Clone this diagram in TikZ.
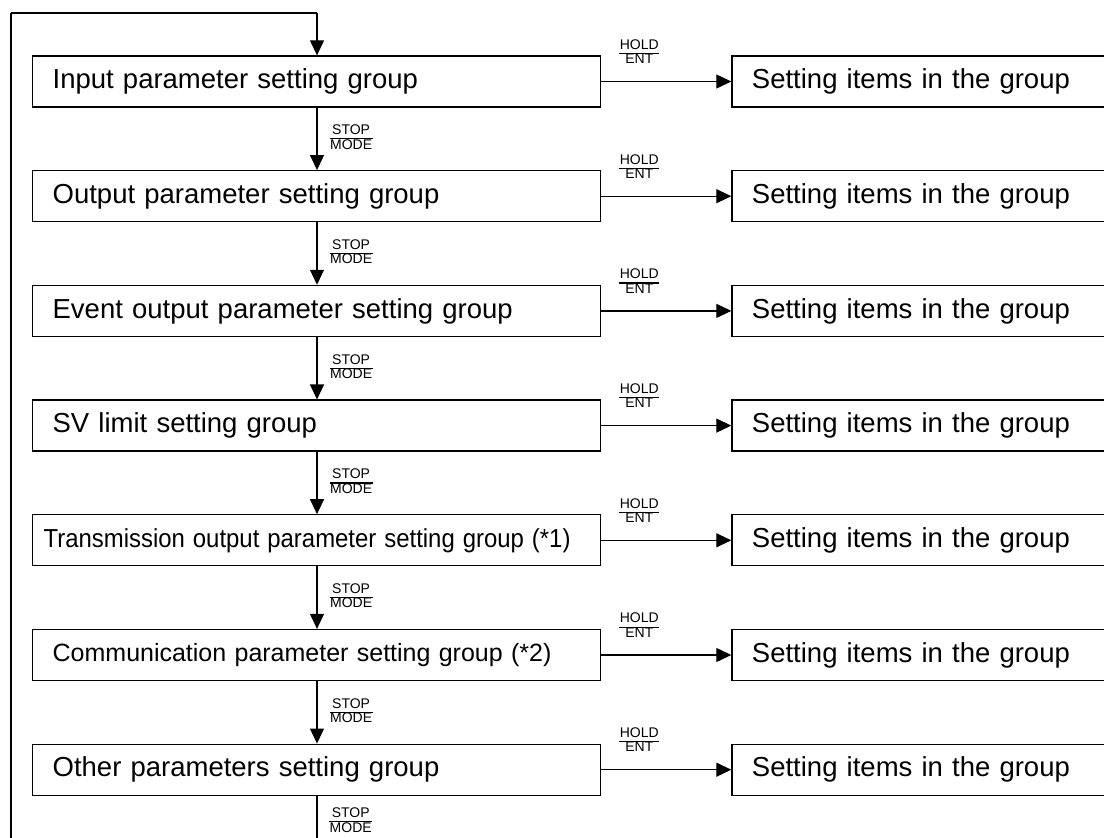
\documentclass[tikz,border=0pt]{standalone}
\usepackage{fontspec}
\setmainfont{Liberation Sans}
\usetikzlibrary{arrows.meta,calc}
\newcommand{\keyfrac}[2]{{\setlength{\tabcolsep}{0.5pt}\renewcommand{\arraystretch}{0.8}\setlength{\arrayrulewidth}{1.1pt}\begin{tabular}{c}#1\\\hline #2\end{tabular}}}
\begin{document}
\begin{tikzpicture}[x=1pt,y=-1pt,
  lbox/.style={draw, line width=1.3pt, anchor=west, minimum width=568pt, minimum height=51pt,
    text width=528pt, inner xsep=20pt, inner ysep=0pt, align=left, font=\fontsize{27.5}{30}\selectfont},
  rbox/.style={draw, line width=1.3pt, anchor=west, minimum width=420pt, minimum height=51pt,
    text width=380pt, inner xsep=20pt, inner ysep=0pt, align=left, font=\fontsize{27.5}{30}\selectfont},
  arr/.style={line width=1.2pt, -{Triangle[width=14pt,length=15pt]}},
  keylab/.style={font=\fontsize{14}{15}\selectfont, inner sep=0pt},
  loopline/.style={line width=1.2pt},
  ]
\useasboundingbox (0,0) rectangle (1104,838);
\clip (0,0) rectangle (1104,838);
\coordinate (vx) at (317,0);
\coordinate (tl) at (11,13);
\coordinate (bot) at (11,900);

\node[lbox] (L1) at (32,81.5) {Input parameter setting group};
\node[lbox] (L2) at (32,196.2) {Output parameter setting group};
\node[lbox] (L3) at (32,310.9) {Event output parameter setting group};
\node[lbox] (L4) at (32,425.6) {SV limit setting group};
\node[lbox, font=\fontsize{26}{28}\selectfont] (L5) at (32,540.3) {\hspace*{-9pt}\scalebox{0.92}[1]{Transmission output parameter setting group (*1)}};
\node[lbox, font=\fontsize{25}{28}\selectfont] (L6) at (32,655) {Communication parameter setting group (*2)};
\node[lbox] (L7) at (32,769.7) {Other parameters setting group};

\foreach \i in {1,...,7}{
  \node[rbox] (R\i) at ($(L\i.east)+(130,0)$) {Setting items in the group};
  \draw[arr] (L\i.east) -- (R\i.west);
  \node[keylab] (H\i) at ($(L\i.east)+(38,-28)$) {\keyfrac{HOLD}{ENT}};
}

\foreach \i/\j in {1/2,2/3,3/4,4/5,5/6,6/7}{
  \draw[arr] (L\i.south -| vx) -- (L\j.north -| vx)
    node[keylab, pos=0.5, anchor=west, xshift=12pt] {\keyfrac{STOP}{MODE}};
}

% loop back
\draw[line width=1.2pt] (L7.south -| vx) -- (vx |- bot);
\node[keylab, anchor=west] (S7) at ($(L7.south -| vx)+(12,26)$) {\keyfrac{STOP}{MODE}};
\draw[line width=2pt] (bot) -- (tl);
\draw[loopline] (tl) -- (tl -| vx);
\draw[arr] (tl -| vx) -- (L1.north -| vx);
\end{tikzpicture}
\end{document}
